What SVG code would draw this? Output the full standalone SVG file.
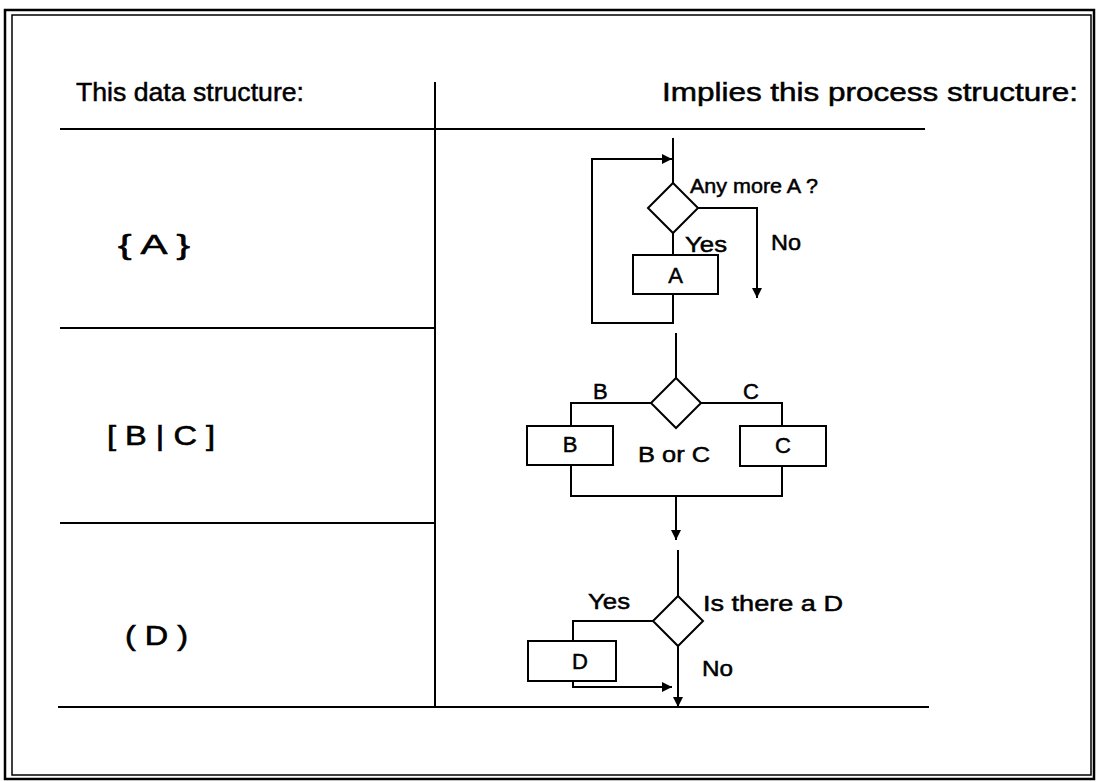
<svg xmlns="http://www.w3.org/2000/svg" width="1097" height="782" viewBox="0 0 1097 782">
<defs>
<style>
.ln{fill:none;stroke:#000;stroke-width:2}
.bx{fill:#fff;stroke:#000;stroke-width:2}
.hd{font-family:"Liberation Sans",Arial,sans-serif;font-size:26px;fill:#000;stroke:#000;stroke-width:0.5}
.lb{font-family:"Liberation Sans",Arial,sans-serif;font-size:22px;fill:#000;stroke:#000;stroke-width:0.5}
.sm{font-size:20px}
.rl{font-family:"Liberation Sans",Arial,sans-serif;font-size:27px;fill:#000;stroke:#000;stroke-width:0.6}
</style>
<marker id="ah" viewBox="0 0 10 10" refX="10" refY="5" markerWidth="11" markerHeight="10" markerUnits="userSpaceOnUse" orient="auto">
<path d="M0,0 L10,5 L0,10 Z" fill="#000"/>
</marker>
</defs>
<rect width="1097" height="782" fill="#fff"/>
<g id="frame">
<rect x="5" y="10" width="1089" height="769" fill="none" stroke="#000" stroke-width="2.5"/>
<rect x="12" y="15" width="1079" height="760" fill="none" stroke="#000" stroke-width="1.5"/>
</g>
<g id="table">
<line class="ln" x1="435" y1="82" x2="435" y2="707"/>
<line class="ln" x1="60" y1="129" x2="925" y2="129"/>
<line class="ln" x1="60" y1="328" x2="435" y2="328"/>
<line class="ln" x1="60" y1="523" x2="435" y2="523"/>
<line class="ln" x1="58" y1="707" x2="929" y2="707"/>
<text class="hd" x="76" y="101" textLength="228" lengthAdjust="spacingAndGlyphs">This data structure:</text>
<text class="hd" x="662" y="101" textLength="416" lengthAdjust="spacingAndGlyphs">Implies this process structure:</text>
</g>
<g id="row-labels">
<text class="rl" x="118" y="254" textLength="72" lengthAdjust="spacingAndGlyphs">{ A }</text>
<text class="rl" x="107" y="445" textLength="108" lengthAdjust="spacingAndGlyphs">[ B | C ]</text>
<text class="rl" x="125" y="645" textLength="63" lengthAdjust="spacingAndGlyphs">( D )</text>
</g>
<g id="connectors">
<line class="ln" x1="673" y1="138" x2="673" y2="183"/>
<polyline class="ln" points="673,294 673,323 592,323 592,159 672,159" marker-end="url(#ah)"/>
<line class="ln" x1="673" y1="233" x2="673" y2="255"/>
<polyline class="ln" points="698,208 757,208 757,298" marker-end="url(#ah)"/>
<line class="ln" x1="676" y1="333" x2="676" y2="378"/>
<polyline class="ln" points="651,403 571,403 571,426"/>
<polyline class="ln" points="701,403 782,403 782,426"/>
<polyline class="ln" points="571,465 571,496 782,496 782,466"/>
<line class="ln" x1="676" y1="496" x2="676" y2="540" marker-end="url(#ah)"/>
<line class="ln" x1="678" y1="550" x2="678" y2="596"/>
<polyline class="ln" points="653,621 573,621 573,641"/>
<polyline class="ln" points="573,681 573,687 672,687" marker-end="url(#ah)"/>
<line class="ln" x1="678" y1="646" x2="678" y2="707" marker-end="url(#ah)"/>
</g>
<g id="loop-A">
<polygon class="bx" points="673,183 698,208 673,233 648,208"/>
<text class="lb sm" x="690" y="193" textLength="128" lengthAdjust="spacingAndGlyphs">Any more A ?</text>
<text class="lb" x="685" y="252" textLength="42" lengthAdjust="spacingAndGlyphs">Yes</text>
<text class="lb" x="771" y="250" textLength="30" lengthAdjust="spacingAndGlyphs">No</text>
</g>
<g id="box-A">
<rect class="bx" x="633" y="255" width="85" height="39"/>
<text class="lb" x="675.5" y="283" text-anchor="middle">A</text>
</g>
<g id="select-BC">
<polygon class="bx" points="676,378 701,403 676,428 651,403"/>
<text class="lb" x="593" y="399">B</text>
<text class="lb" x="743" y="399">C</text>
<text class="lb" x="638" y="462" textLength="72" lengthAdjust="spacingAndGlyphs">B or C</text>
</g>
<g id="box-B">
<rect class="bx" x="527" y="426" width="86" height="39"/>
<text class="lb" x="570" y="452" text-anchor="middle">B</text>
</g>
<g id="box-C">
<rect class="bx" x="740" y="426" width="86" height="40"/>
<text class="lb" x="783" y="453" text-anchor="middle">C</text>
</g>
<g id="option-D">
<polygon class="bx" points="678,596 703,621 678,646 653,621"/>
<text class="lb" x="588" y="609" textLength="42" lengthAdjust="spacingAndGlyphs">Yes</text>
<text class="lb" x="703" y="611" textLength="140" lengthAdjust="spacingAndGlyphs">Is there a D</text>
<text class="lb" x="702" y="676" textLength="31" lengthAdjust="spacingAndGlyphs">No</text>
</g>
<g id="box-D">
<rect class="bx" x="528" y="641" width="88" height="40"/>
<text class="lb" x="580" y="669" text-anchor="middle">D</text>
</g>
</svg>
